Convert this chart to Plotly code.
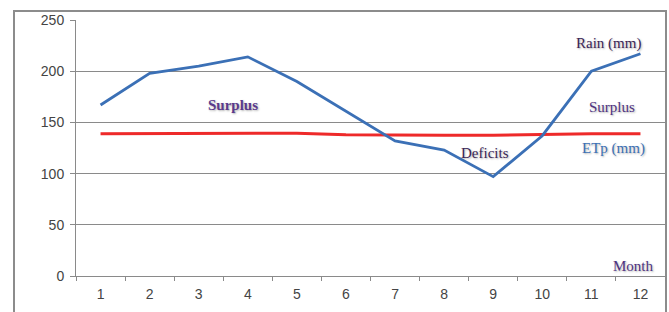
import plotly.graph_objects as go

months = ["1", "2", "3", "4", "5", "6", "7", "8", "9", "10", "11", "12"]
rain_mm = [167, 198, 205, 214, 190, 161, 132, 123, 97, 137, 200, 217]
etp_mm = [139, 139, 139.5, 139.5, 139.5, 138, 137.5, 137.5, 137.5, 138.5, 139, 139]

W, H = 669, 312
L, R, T, B = 76, 4, 20, 36
pw, ph = W - L - R, H - T - B


def px(x):
    return (x - L) / pw


def py(y):
    return (H - B - y) / ph


fig = go.Figure()
fig.add_trace(go.Scatter(x=months, y=etp_mm, mode="lines",
                         line=dict(color="#ee2a2a", width=3), name="ETp (mm)"))
fig.add_trace(go.Scatter(x=months, y=rain_mm, mode="lines",
                         line=dict(color="#3b70b6", width=2.8), name="Rain (mm)"))

serif = "Liberation Serif, Times New Roman, serif"
shadow = "1px 1px 2px rgba(0,0,0,0.3)"
notes = [
    ("Rain (mm)", 608, 43, "#3b2656", False),
    ("Surplus", 233, 105, "#5a3a8c", True),
    ("Surplus", 612, 107, "#4e3280", False),
    ("Deficits", 485, 153, "#3b2656", False),
    ("ETp (mm)", 613, 148, "#3c6fb4", False),
    ("Month", 633, 266, "#4e3280", False),
]
for text, x, y, col, bold in notes:
    fig.add_annotation(
        text=f"<b>{text}</b>" if bold else text,
        x=px(x), y=py(y), xref="paper", yref="paper",
        xanchor="center", yanchor="middle", showarrow=False,
        font=dict(family=serif, size=15, color=col, shadow=shadow),
    )

# outer chart border
fig.add_shape(type="rect", xref="paper", yref="paper",
              x0=px(14), x1=px(666), y0=py(340), y1=py(11),
              line=dict(color="#8c8c8c", width=2), layer="below")

fig.update_layout(
    width=W, height=H,
    margin=dict(l=L, r=R, t=T, b=B),
    paper_bgcolor="white", plot_bgcolor="white",
    showlegend=False,
    font=dict(family="Liberation Sans, Arial, sans-serif", size=14, color="#444444"),
)
fig.update_xaxes(
    type="category", range=[-0.5, 11.5], tickson="boundaries",
    ticks="outside", ticklen=4, tickcolor="#8a8a8a",
    showline=True, linecolor="#8a8a8a", linewidth=1,
    showgrid=False, zeroline=False, ticklabelstandoff=5,
)
fig.update_yaxes(
    range=[0, 250], dtick=50, ticks="outside", ticklen=5, tickcolor="#8a8a8a",
    showline=True, linecolor="#8a8a8a", linewidth=1,
    showgrid=True, gridcolor="#8a8a8a", gridwidth=1, zeroline=False,
    ticklabelstandoff=3,
)

fig.write_html("out.html", config={"displayModeBar": False},
               post_script="document.body.style.margin='0';document.body.style.overflow='hidden';")
